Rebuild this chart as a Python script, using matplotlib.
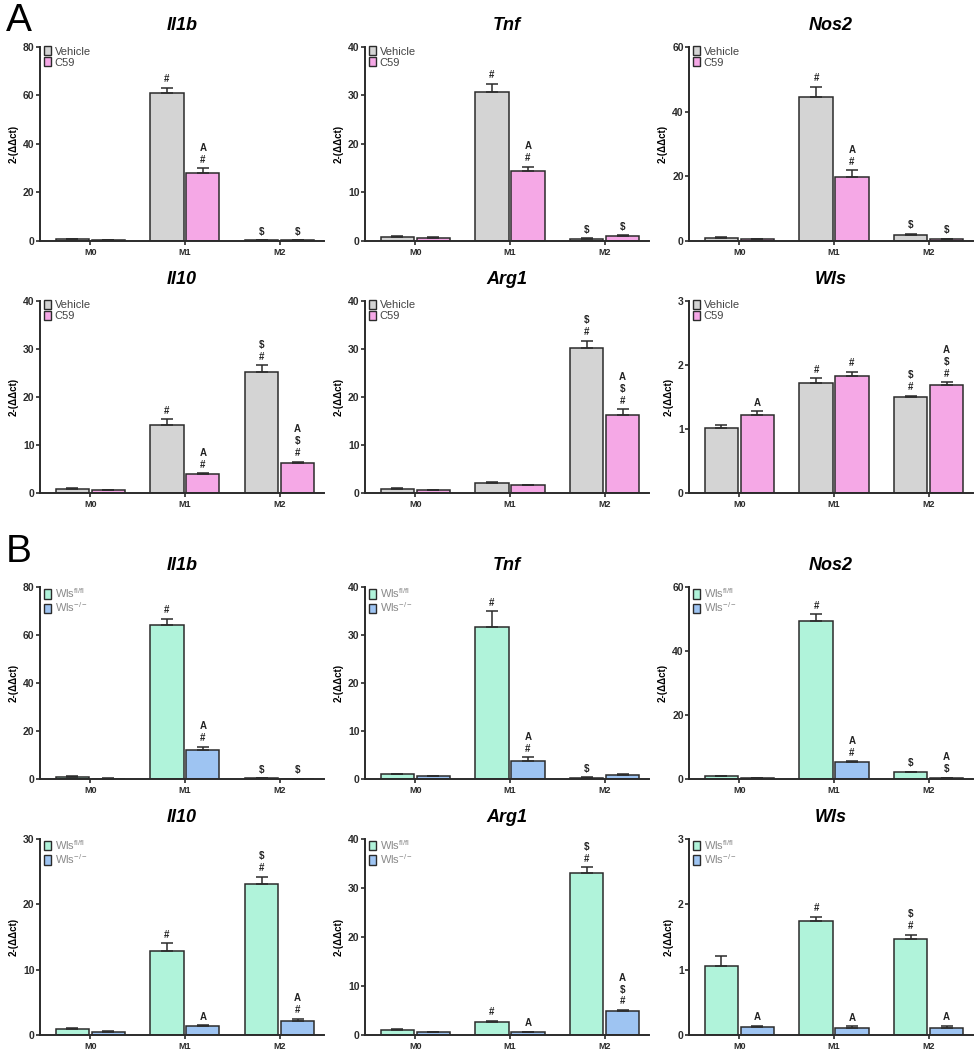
import matplotlib

matplotlib.use("Agg")

import matplotlib.pyplot as plt  # noqa: E402
import numpy as np  # noqa: E402
from matplotlib.patches import Patch  # noqa: E402

plt.rcParams["font.family"] = ["Liberation Sans", "DejaVu Sans"]
plt.rcParams["mathtext.fontset"] = "custom"
plt.rcParams["mathtext.rm"] = "Liberation Sans"
plt.rcParams["mathtext.it"] = "Liberation Sans:italic"

# --------------------------------------------------------------------------- #
# Data
# --------------------------------------------------------------------------- #
GROUPS = ["M0", "M1", "M2"]
GENES = ["Il1b", "Tnf", "Nos2", "Il10", "Arg1", "Wls"]
YMAX_A = [80, 40, 60, 40, 40, 3]
YMAX_B = [80, 40, 60, 30, 40, 3]
YSTEP_A = [20, 10, 20, 10, 10, 1]
YSTEP_B = [20, 10, 20, 10, 10, 1]

# Panel A: Vehicle vs C59 (one row per gene, columns M0/M1/M2)
A_VEH_MEAN = [
    [0.8, 61.0, 0.3],
    [0.9, 30.8, 0.5],
    [0.9, 44.5, 1.8],
    [0.9, 14.1, 25.1],
    [0.8, 2.1, 30.1],
    [1.01, 1.71, 1.50],
]
A_VEH_ERR = [
    [0.2, 2.2, 0.1],
    [0.2, 1.6, 0.1],
    [0.2, 3.2, 0.4],
    [0.2, 1.2, 1.5],
    [0.2, 0.2, 1.6],
    [0.05, 0.08, 0.02],
]
A_C59_MEAN = [
    [0.5, 28.0, 0.2],
    [0.7, 14.5, 1.0],
    [0.5, 19.8, 0.5],
    [0.6, 3.9, 6.3],
    [0.6, 1.6, 16.3],
    [1.21, 1.82, 1.68],
]
A_C59_ERR = [
    [0.1, 2.0, 0.1],
    [0.1, 0.8, 0.2],
    [0.1, 2.0, 0.2],
    [0.1, 0.2, 0.2],
    [0.1, 0.1, 1.1],
    [0.07, 0.07, 0.05],
]
# significance marks, stacked bottom -> top
A_VEH_MARKS = [
    ["", "#", "$"],
    ["", "#", "$"],
    ["", "#", "$"],
    ["", "#", "#$"],
    ["", "", "#$"],
    ["", "#", "#$"],
]
A_C59_MARKS = [
    ["", "#A", "$"],
    ["", "#A", "$"],
    ["", "#A", "$"],
    ["", "#A", "#$A"],
    ["", "", "#$A"],
    ["A", "#", "#$A"],
]

# Panel B: Wls fl/fl vs Wls-/-
B_FL_MEAN = [
    [0.9, 64.3, 0.3],
    [1.0, 31.7, 0.3],
    [0.9, 49.5, 2.1],
    [0.9, 12.9, 23.1],
    [1.1, 2.7, 32.9],
    [1.06, 1.74, 1.46],
]
B_FL_ERR = [
    [0.3, 2.5, 0.1],
    [0.1, 3.2, 0.1],
    [0.2, 2.0, 0.2],
    [0.1, 1.1, 1.1],
    [0.2, 0.2, 1.3],
    [0.15, 0.07, 0.07],
]
B_KO_MEAN = [
    [0.2, 12.0, 0.1],
    [0.6, 3.8, 0.9],
    [0.3, 5.2, 0.3],
    [0.5, 1.3, 2.2],
    [0.6, 0.6, 4.9],
    [0.12, 0.11, 0.10],
]
B_KO_ERR = [
    [0.1, 1.4, 0.05],
    [0.1, 0.7, 0.1],
    [0.1, 0.3, 0.1],
    [0.1, 0.2, 0.3],
    [0.1, 0.1, 0.2],
    [0.02, 0.02, 0.04],
]
B_FL_MARKS = [
    ["", "#", "$"],
    ["", "#", "$"],
    ["", "#", "$"],
    ["", "#", "#$"],
    ["", "#", "#$"],
    ["", "#", "#$"],
]
B_KO_MARKS = [
    ["", "#A", "$"],
    ["", "#A", ""],
    ["", "#A", "$A"],
    ["", "A", "#A"],
    ["", "A", "#$A"],
    ["A", "A", "A"],
]

A_LABELS = ["Vehicle", "C59"]
B_LABELS = [r"Wls$^{\mathrm{fl/fl}}$", r"Wls$^{-/-}$"]
A_COLORS = ["#d4d4d4", "#f5a8e6"]
B_COLORS = ["#b0f3da", "#9ec4f2"]

# --------------------------------------------------------------------------- #
# Layout (figure fractions)
# --------------------------------------------------------------------------- #
COL_LEFT = [0.041, 0.373, 0.704]
AX_W = 0.290
ROW_BOTTOM = [0.7705, 0.5305, 0.258, 0.0143]
ROW_H = [0.1848, 0.183, 0.183, 0.187]

EDGE = "#2b2b2b"


def draw_panel(ax, gene, ymax, ystep, means, errs, marks, labels, colors, legend_color):
    x = np.arange(len(GROUPS))
    width = 0.35
    offsets = [-0.19, 0.19]
    for k in range(2):
        xs = x + offsets[k]
        ax.bar(xs, means[k], width, color=colors[k], edgecolor=EDGE,
               linewidth=1.1, zorder=2)
        ax.errorbar(xs, means[k], yerr=[np.zeros(len(GROUPS)), errs[k]],
                    fmt="none", ecolor=EDGE, elinewidth=1.1, capsize=4,
                    capthick=1.1, zorder=3)
        for xi, m, e, s in zip(xs, means[k], errs[k], marks[k]):
            for j, ch in enumerate(s):
                ax.annotate(ch, (xi, m + e), xytext=(0, 2.5 + j * 8.6),
                            textcoords="offset points", ha="center",
                            va="bottom", fontsize=7, fontweight="bold",
                            color="#222222")

    ax.set_xlim(-0.53, 2.47)
    ax.set_ylim(0, ymax)
    ax.set_yticks(np.arange(0, ymax + ystep / 2, ystep))
    ax.set_xticks(x)
    ax.set_xticklabels(GROUPS)
    for side in ("top", "right"):
        ax.spines[side].set_visible(False)
    for side in ("left", "bottom"):
        ax.spines[side].set_linewidth(1.4)
        ax.spines[side].set_color(EDGE)
    ax.tick_params(axis="y", length=3, width=1.2, labelsize=7.5, pad=1,
                   colors=EDGE)
    ax.tick_params(axis="x", length=3, width=1.2, labelsize=6.5, pad=2,
                   colors=EDGE)
    for lab in ax.get_xticklabels() + ax.get_yticklabels():
        lab.set_fontweight("bold")
    ax.set_ylabel("2-(ΔΔct)", fontsize=7, fontweight="bold", labelpad=3)
    ax.set_title(gene, fontsize=13, fontweight="bold", fontstyle="italic",
                 pad=12)

    handles = [Patch(facecolor=c, edgecolor=EDGE, linewidth=1.0) for c in colors]
    leg = ax.legend(handles, labels, loc="upper left", frameon=False,
                    fontsize=8, handlelength=0.65, handleheight=0.9,
                    handletextpad=0.3, labelspacing=0.05,
                    borderaxespad=0.0, borderpad=0.1,
                    bbox_to_anchor=(0.01, 1.01))
    for t in leg.get_texts():
        t.set_color(legend_color)


fig = plt.figure(figsize=(9.79, 10.5), dpi=100)

for i, gene in enumerate(GENES):
    r, c = divmod(i, 3)
    ax = fig.add_axes([COL_LEFT[c], ROW_BOTTOM[r], AX_W, ROW_H[r]])
    draw_panel(ax, gene, YMAX_A[i], YSTEP_A[i],
               [A_VEH_MEAN[i], A_C59_MEAN[i]], [A_VEH_ERR[i], A_C59_ERR[i]],
               [A_VEH_MARKS[i], A_C59_MARKS[i]], A_LABELS, A_COLORS, "#444444")

    ax = fig.add_axes([COL_LEFT[c], ROW_BOTTOM[r + 2], AX_W, ROW_H[r + 2]])
    draw_panel(ax, gene, YMAX_B[i], YSTEP_B[i],
               [B_FL_MEAN[i], B_KO_MEAN[i]], [B_FL_ERR[i], B_KO_ERR[i]],
               [B_FL_MARKS[i], B_KO_MARKS[i]], B_LABELS, B_COLORS, "#8a8a8a")

fig.text(0.006, 0.997, "A", fontsize=28, va="top", ha="left")
fig.text(0.006, 0.491, "B", fontsize=28, va="top", ha="left")

fig.savefig("out.png", dpi=100)
